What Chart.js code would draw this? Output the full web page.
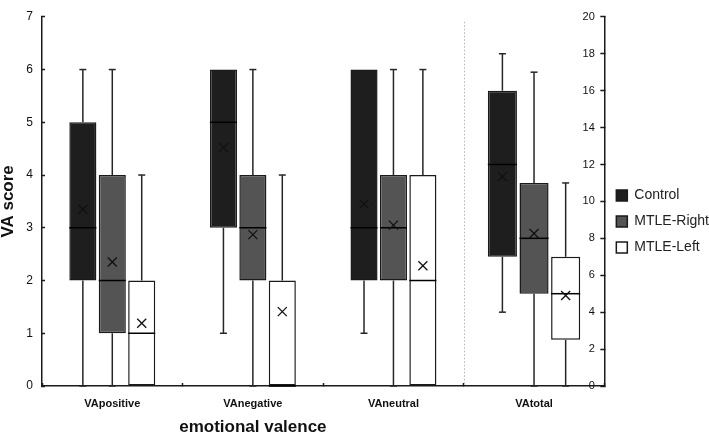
<!DOCTYPE html>
<html>
<head>
<meta charset="utf-8">
<script src="https://cdn.jsdelivr.net/npm/chart.js"></script>
<style>
html,body{margin:0;padding:0;background:#fff;}
#wrap{width:709px;height:438px;position:relative;}
</style>
</head>
<body>
<div id="wrap"><canvas id="c" width="709" height="438"></canvas></div>
<script>
// ---- data ----
const categories = ['VApositive', 'VAnegative', 'VAneutral', 'VAtotal'];
const groups = ['Control', 'MTLE-Right', 'MTLE-Left'];
const axisTitleX = 'emotional valence';
const axisTitleY = 'VA score';
// box statistics for the three valence categories: [min, q1, median, q3, max]
const controlStats = [[0, 2, 3, 5, 6], [1, 3, 5, 6, 6], [1, 2, 3, 6, 6]];
const rightStats   = [[0, 1, 2, 4, 6], [0, 2, 3, 4, 6], [0, 2, 3, 4, 6]];
const leftStats    = [[0, 0, 1, 2, 4], [0, 0, 0, 2, 4], [0, 0, 2, 4, 6]];
const controlMeans = [3.35, 4.52, 3.45];
const rightMeans   = [2.35, 2.87, 3.05];
const leftMeans    = [1.19, 1.41, 2.28];
// VAtotal (right axis), order: Control, MTLE-Right, MTLE-Left
const totalStats = [[4, 7, 12, 16, 18], [0, 5, 8, 11, 17], [0, 2.5, 5, 7, 11]];
const totalMeans = [11.34, 8.26, 4.9];
const leftTicks = [0, 1, 2, 3, 4, 5, 6, 7];
const rightTicks = [0, 2, 4, 6, 8, 10, 12, 14, 16, 18, 20];

// ---- styles ----
const fills = ['#1e1e1e', '#545454', '#ffffff'];
const groupStats = [controlStats, rightStats, leftStats];
const groupMeans = [controlMeans, rightMeans, leftMeans];

Chart.defaults.font.family = "'Liberation Sans', Arial, sans-serif";
Chart.defaults.color = '#111';

const nSub = categories.length - 1;
const datasets = [];
groups.forEach((g, k) => {
  const stats = groupStats[k].concat([null]);
  datasets.push({
    label: g,
    stack: g,
    data: stats.map(s => (s ? [s[1], s[3]] : null)),
    stats: stats,
    means: groupMeans[k].concat([null]),
    xAxisID: 'x', yAxisID: 'y',
    backgroundColor: fills[k], borderColor: '#1a1a1a', borderWidth: 1.5,
    borderSkipped: false,
    categoryPercentage: 0.628, barPercentage: 0.92
  });
});
groups.forEach((g, k) => {
  const stats = new Array(nSub).fill(null).concat([totalStats[k]]);
  datasets.push({
    label: g,
    stack: g,
    data: stats.map(s => (s ? [s[1], s[3]] : null)),
    stats: stats,
    means: new Array(nSub).fill(null).concat([totalMeans[k]]),
    xAxisID: 'x', yAxisID: 'y2',
    backgroundColor: fills[k], borderColor: '#1a1a1a', borderWidth: 1.5,
    borderSkipped: false,
    categoryPercentage: 0.675, barPercentage: 0.92
  });
});

const boxExtras = {
  id: 'boxExtras',
  afterDatasetsDraw(chart) {
    const ctx = chart.ctx;
    const seg = (x1, y1, x2, y2) => { ctx.beginPath(); ctx.moveTo(x1, y1); ctx.lineTo(x2, y2); ctx.stroke(); };
    chart.data.datasets.forEach((ds, di) => {
      const meta = chart.getDatasetMeta(di);
      const ys = chart.scales[meta.yAxisID];
      const py = v => ys.getPixelForValue(v);
      meta.data.forEach((bar, i) => {
        const s = ds.stats[i];
        if (!s) return;
        const x = bar.x, hw = bar.width / 2;
        ctx.save();
        ctx.strokeStyle = '#262626';
        ctx.lineWidth = 1.5;
        if (s[4] > s[3]) { seg(x, py(s[3]), x, py(s[4])); seg(x - 3.5, py(s[4]), x + 3.5, py(s[4])); }
        if (s[0] < s[1]) { seg(x, py(s[1]), x, py(s[0])); seg(x - 3.5, py(s[0]), x + 3.5, py(s[0])); }
        ctx.strokeStyle = '#000';
        seg(x - hw, py(s[2]), x + hw, py(s[2]));
        const my = py(ds.means[i]);
        const r = 4.5;
        ctx.lineWidth = 1.3;
        ctx.strokeStyle = '#111';
        seg(x - r, my - r, x + r, my + r);
        seg(x - r, my + r, x + r, my - r);
        ctx.restore();
      });
    });
    // dotted separator before the VAtotal group
    const xs = chart.scales.x, area = chart.chartArea;
    const sx = Math.round(xs.getPixelForValue(nSub - 0.5)) + 0.5;
    ctx.save();
    ctx.strokeStyle = '#b5b5b5';
    ctx.lineWidth = 1;
    ctx.setLineDash([1.5, 2]);
    ctx.beginPath();
    ctx.moveTo(sx, area.top + 5);
    ctx.lineTo(sx, area.bottom - 2);
    ctx.stroke();
    ctx.restore();
    // axis title for the three valence categories
    ctx.save();
    ctx.font = "bold 17px 'Liberation Sans', Arial, sans-serif";
    ctx.fillStyle = '#111';
    ctx.textAlign = 'center';
    ctx.textBaseline = 'middle';
    const tx = (xs.getPixelForValue(-0.5) + xs.getPixelForValue(nSub - 0.5)) / 2;
    ctx.fillText(axisTitleX, tx, xs.bottom - 11);
    ctx.restore();
  }
};

const axisBorder = { color: '#1a1a1a', width: 1.5 };

new Chart(document.getElementById('c'), {
  type: 'bar',
  data: { labels: categories, datasets },
  options: {
    responsive: false,
    animation: false,
    devicePixelRatio: 1,
    layout: { padding: { top: 5, right: -10, bottom: 0, left: 0 } },
    plugins: {
      tooltip: { enabled: false },
      legend: {
        position: 'right',
        align: 'center',
        labels: {
          boxWidth: 11, boxHeight: 11, padding: 12, color: '#222',
          font: { size: 14 },
          filter: item => item.datasetIndex < groups.length
        }
      }
    },
    scales: {
      x: {
        type: 'category', position: 'bottom',
        offset: true,
        grid: { drawOnChartArea: false, offset: true, tickLength: -3, tickColor: '#1a1a1a', tickWidth: 1.5 },
        border: axisBorder,
        ticks: { font: { size: 11, weight: 'bold' }, color: '#111', padding: 14.4, maxRotation: 0, autoSkip: false },
        afterFit: s => { s.height = 52; }
      },
      y: {
        type: 'linear', position: 'left', stacked: false,
        min: leftTicks[0], max: leftTicks[leftTicks.length - 1],
        afterBuildTicks: s => { s.ticks = leftTicks.map(v => ({ value: v })); },
        grid: { drawOnChartArea: false, tickLength: -3, tickColor: '#1a1a1a', tickWidth: 1.5 },
        border: axisBorder,
        ticks: { font: { size: 12, lineHeight: 0.8 }, color: '#111', padding: 12 },
        title: { display: true, text: axisTitleY, font: { size: 17, weight: 'bold', lineHeight: 1 }, color: '#111', padding: 0 },
        afterFit: s => { s.width = 42; }
      },
      y2: {
        type: 'linear', position: 'right', stacked: false,
        min: rightTicks[0], max: rightTicks[rightTicks.length - 1],
        afterBuildTicks: s => { s.ticks = rightTicks.map(v => ({ value: v })); },
        grid: { drawOnChartArea: false, tickLength: -4, tickColor: '#1a1a1a', tickWidth: 1.5 },
        border: axisBorder,
        ticks: { font: { size: 11, lineHeight: 0.8 }, color: '#111', mirror: true, padding: -9.5 },
        afterFit: s => { s.width = 0; }
      }
    }
  },
  plugins: [boxExtras]
});
</script>
</body>
</html>
